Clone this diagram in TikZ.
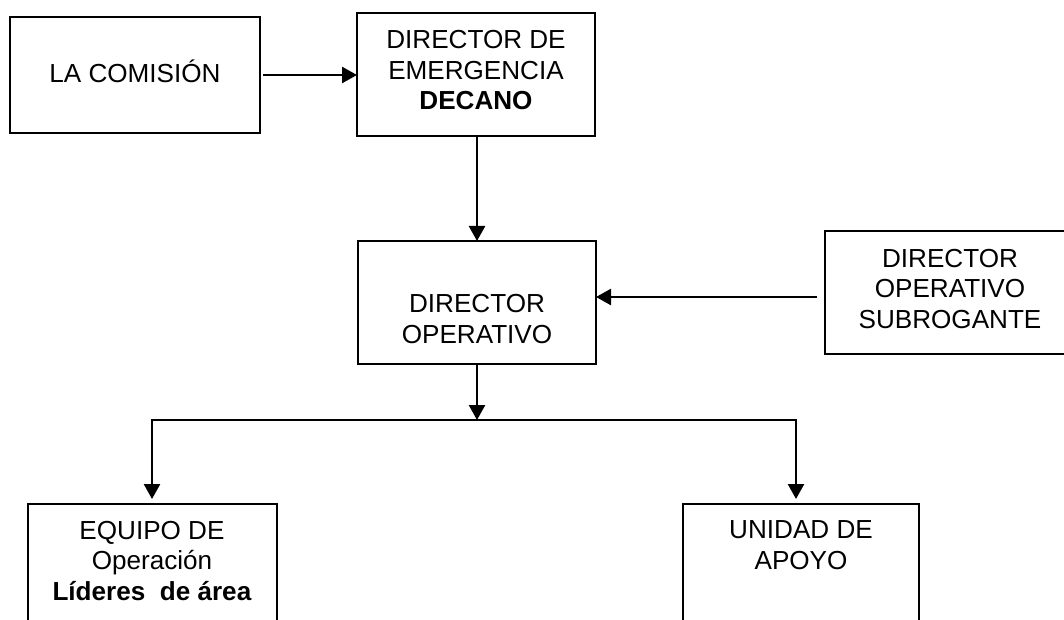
\documentclass[tikz,border=0pt]{standalone}
\usepackage{fontspec}
\setmainfont{Liberation Sans}
\usetikzlibrary{arrows.meta}
\begin{document}
\begin{tikzpicture}[x=1pt,y=-1pt,
  box/.style={draw, line width=2.2pt, rectangle, inner sep=0pt, outer sep=0pt, anchor=north west},
  txt/.style={align=center, inner sep=0pt, anchor=base, font=\fontsize{26.1pt}{30.5pt}\selectfont},
  arr/.style={line width=2.5pt, -{Triangle[length=15pt,width=16pt]}},
]
\useasboundingbox (0,0) rectangle (1064,620);
\fill[white] (0,0) rectangle (1064,620);
\clip (0,0) rectangle (1064,620);
% boxes
\node[box, minimum width=250pt, minimum height=116pt] (com) at (10,17) {};
\node[box, minimum width=238pt, minimum height=123pt] (dir) at (357,13) {};
\node[box, minimum width=238pt, minimum height=123pt] (dop) at (358,241) {};
\node[box, minimum width=250pt, minimum height=123pt] (sub) at (825,231) {};
\node[box, minimum width=249pt, minimum height=200pt] (equ) at (28,504) {};
\node[box, minimum width=236pt, minimum height=200pt] (uni) at (683,504) {};
% texts (anchor = baseline of last line)
\node[txt] (tcom) at (135,83) {LA COMISIÓN};
\node[txt] (tdir) at (476,110) {DIRECTOR DE\\EMERGENCIA\\\textbf{DECANO}};
\node[txt] (tdop) at (477,343) {DIRECTOR\\OPERATIVO};
\node[txt] (tsub) at (950,328) {DIRECTOR\\OPERATIVO\\SUBROGANTE};
\node[txt] (tequ) at (152,600) {EQUIPO DE\\Operación\\\textbf{Líderes\ \ de área}};
\node[txt] (tuni) at (801,569) {UNIDAD DE\\APOYO};
% connectors
\draw[arr] ([xshift=3pt]com.east) -- (com.east -| dir.west);
\draw[arr] (dop.north |- dir.south) -- (dop.north);
\coordinate (subout) at (817,297);
\draw[arr] (subout) -- (subout -| dop.east);
\coordinate (jn) at (477,420);
\draw[arr] (dop.south) -- (jn);
\coordinate (jl) at (152,420);
\coordinate (jr) at (796,420);
\draw[line width=2.5pt, line cap=rect] (jl) -- (jr);
\draw[arr, shorten >=5pt] (jl) -- (jl |- equ.north);
\draw[arr, shorten >=5pt] (jr) -- (jr |- uni.north);
\end{tikzpicture}
\end{document}
